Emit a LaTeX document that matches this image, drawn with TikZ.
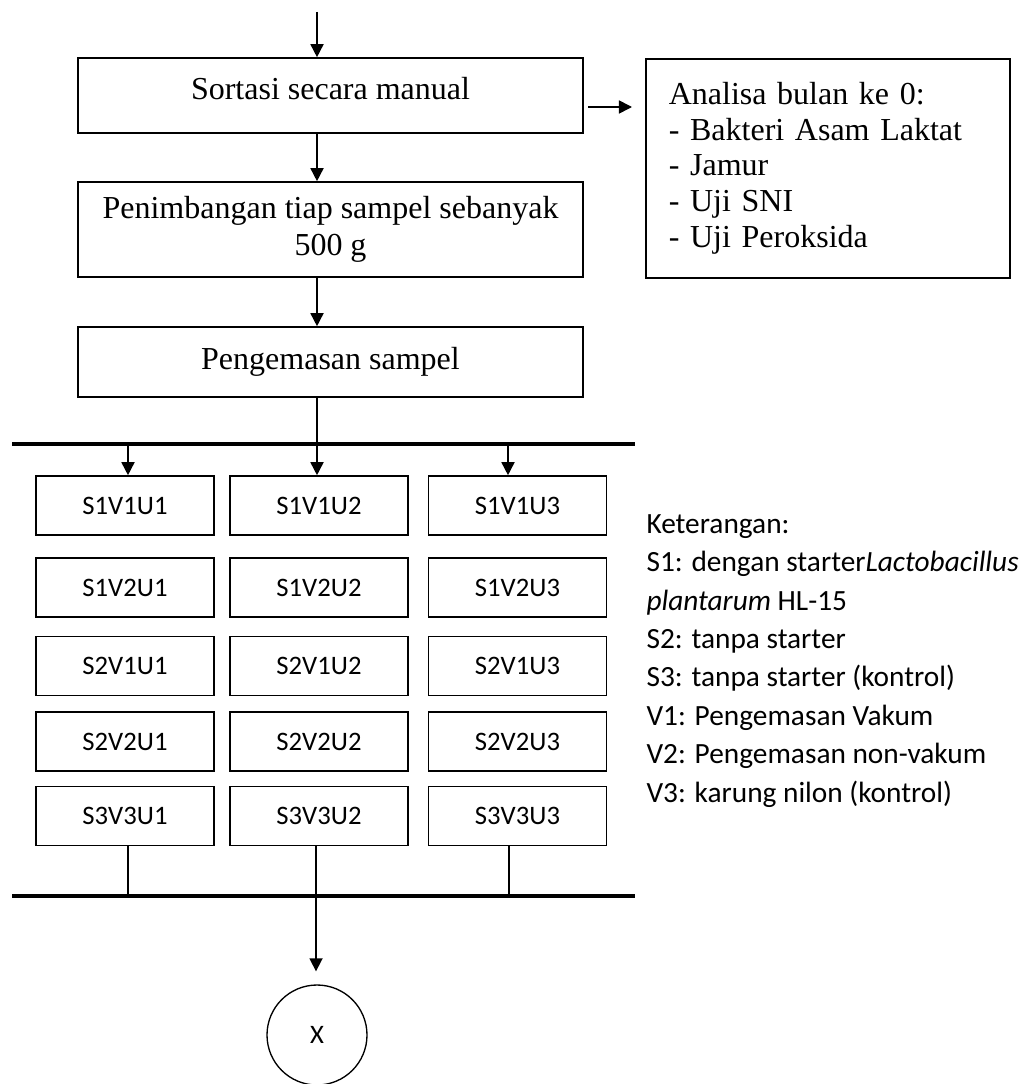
\documentclass[tikz,border=0pt]{standalone}
\usepackage{fontspec}
\setmainfont{Liberation Serif}
\newfontfamily\calibfont{Carlito}
\usetikzlibrary{arrows.meta}
\tikzset{
  procbox/.style={draw,line width=0.6pt,minimum width=505*0.375pt,align=center,
    font=\fontsize{12}{13.9}\selectfont,inner sep=0pt},
  cellbox/.style={draw,line width=0.6pt,minimum width=178*0.375pt,minimum height=59*0.375pt,
    font=\calibfont\fontsize{10}{12}\selectfont,inner sep=0pt},
  flowarrow/.style={line width=0.6pt,-{Triangle[width=4.9pt,length=4.9pt]}},
  flowline/.style={line width=0.6pt},
  busline/.style={line width=1.5pt},
}

\begin{document}
\begin{tikzpicture}[x=0.375pt,y=-0.375pt]
  \useasboundingbox (0,0) rectangle (1032,1084);
  % process steps
  \node[procbox,minimum height=75*0.375pt,text depth=5.2pt] (sort) at (330.5,95.5) {Sortasi secara manual};
  \node[procbox,minimum height=95*0.375pt] (timbang) at (330.5,229.5) {Penimbangan tiap sampel sebanyak\\500 g};
  \node[procbox,minimum height=70*0.375pt] (kemas) at (330.5,362) {Pengemasan sampel};
  \node[draw,line width=0.6pt,anchor=north west,minimum height=219*0.375pt,text width=318*0.375pt,
    inner xsep=23*0.375pt,align=left,font=\fontsize{12}{13.4}\selectfont] (analisa) at (645,58)
    {Analisa bulan ke 0:\\- Bakteri Asam Laktat\\- Jamur\\- Uji SNI\\- Uji Peroksida};
  % arrows of the main line
  \coordinate (topin) at (317,12);
  \coordinate (side) at (588,107);
  \draw[flowarrow] (topin) -- (topin |- sort.north);
  \draw[flowarrow] (sort.south -| topin) -- (timbang.north -| topin);
  \draw[flowarrow] (timbang.south -| topin) -- (kemas.north -| topin);
  \draw[flowarrow,shorten >=13*0.375pt] (side) -- (side -| analisa.west);
  % treatment grid
  \foreach \lab/\yy [count=\row] in {S1V1/505.5,S1V2/587.5,S2V1/666,S2V2/741.5,S3V3/816}{
    \foreach \xx [count=\col] in {125,319,517.5}{
      \node[cellbox] (r\row\col) at (\xx,\yy) {\lab U\col};
    }
  }
  % upper bus
  \coordinate (busL) at (12,444);
  \coordinate (busR) at (635,444);
  \coordinate (b1) at (128,444);
  \coordinate (b3) at (508,444);
  \draw[busline] (busL) -- (busR);
  \draw[flowarrow] (kemas.south -| topin) -- (r12.north -| topin);
  \draw[flowarrow] (b1) -- (b1 |- r11.north);
  \draw[flowarrow] (b3) -- (b3 |- r13.north);
  % lower bus
  \coordinate (dbusL) at (12,896);
  \coordinate (dbusR) at (635,896);
  \coordinate (d1) at (128,896);
  \coordinate (d2) at (316,896);
  \coordinate (d3) at (509,896);
  \draw[busline] (dbusL) -- (dbusR);
  \draw[flowline] (r51.south -| d1) -- (d1);
  \draw[flowline] (r52.south -| d2) -- (d2);
  \draw[flowline] (r53.south -| d3) -- (d3);
  \node[circle,draw,line width=0.5pt,minimum size=100*0.375pt,inner sep=0pt,
    font=\calibfont\fontsize{10}{12}\selectfont] (hasil) at (317,1035) {X};
  \draw[flowarrow,shorten >=13*0.375pt] (d2) -- (d2 |- hasil.north);
  % legend
  \node[anchor=north west,align=left,inner sep=0pt,font=\calibfont\fontsize{11}{14.4}\selectfont] (ket) at (646,514)
    {Keterangan:\\
     S1: dengan starter\textit{Lactobacillus}\\
     \textit{plantarum} HL-15\\
     S2: tanpa starter\\
     S3: tanpa starter (kontrol)\\
     V1: Pengemasan Vakum\\
     V2: Pengemasan non-vakum\\
     V3: karung nilon (kontrol)};
\end{tikzpicture}
\end{document}
